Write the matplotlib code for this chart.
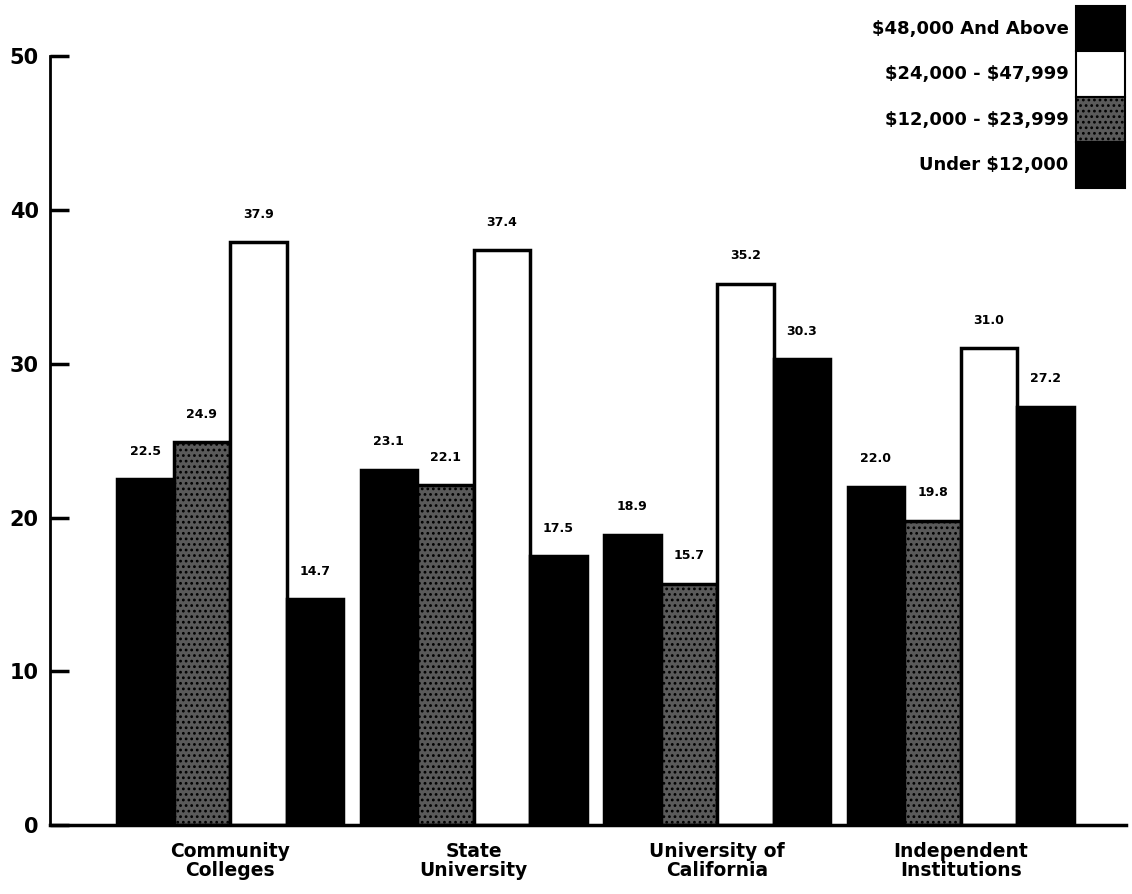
import matplotlib.pyplot as plt
import numpy as np
from matplotlib.patches import Patch

plt.rcParams['hatch.color'] = '#c8c8c8'
plt.rcParams['hatch.linewidth'] = 1.2
plt.rcParams['text.parse_math'] = False

# Data (percent of students by family income)
categories = ['Community\nColleges', 'State\nUniversity', 'University of\nCalifornia', 'Independent\nInstitutions']
income_groups = ['Under $12,000', '$12,000 - $23,999', '$24,000 - $47,999', '$48,000 And Above']
under_12k = [22.5, 23.1, 18.9, 22.0]
from_12k_24k = [24.9, 22.1, 15.7, 19.8]
from_24k_48k = [37.9, 37.4, 35.2, 31.0]
above_48k = [14.7, 17.5, 30.3, 27.2]

series = [under_12k, from_12k_24k, from_24k_48k, above_48k]
faces = ['black', '#5a5a5a', 'white', 'black']
hatches = [None, '...', None, None]

fig, ax = plt.subplots(figsize=(11.32, 8.94), dpi=100)
fig.subplots_adjust(left=0.044, right=0.995, bottom=0.077, top=0.937)

x = np.arange(len(categories))
width = 0.232
for i, vals in enumerate(series):
    pos = x + (i - 1.5) * width
    bars = ax.bar(pos, vals, width, color=faces[i], edgecolor='black',
                  linewidth=2.5, hatch=hatches[i], label=income_groups[i])
    for b, v in zip(bars, vals):
        ax.text(b.get_x() + b.get_width() / 2, v + 1.4, f'{v:.1f}',
                ha='center', va='bottom', fontsize=9, fontweight='bold')

ax.set_xlim(-0.74, 3.68)
ax.set_ylim(0, 50)
ax.set_yticks([0, 10, 20, 30, 40, 50])
ax.tick_params(axis='y', direction='in', length=14, width=2.5, labelsize=15, pad=8)
for lbl in ax.get_yticklabels():
    lbl.set_fontweight('bold')
ax.set_xticks(x)
ax.set_xticklabels(categories, fontsize=13.5, fontweight='bold', linespacing=1.0)
ax.tick_params(axis='x', length=0, pad=12)

ax.spines['top'].set_visible(False)
ax.spines['right'].set_visible(False)
ax.spines['left'].set_linewidth(2)
ax.spines['bottom'].set_linewidth(2.5)

handles = [Patch(facecolor=faces[i], edgecolor='black', hatch=hatches[i], linewidth=1.5)
           for i in range(4)][::-1]
ax.legend(handles, income_groups[::-1], loc='upper right', bbox_to_anchor=(1.005, 1.075),
          markerfirst=False, frameon=False, handlelength=2.7, handleheight=3.5,
          labelspacing=0.0, handletextpad=0.4, borderaxespad=0,
          prop={'weight': 'bold', 'size': 13})

plt.savefig('out.png', dpi=100)
plt.close()
